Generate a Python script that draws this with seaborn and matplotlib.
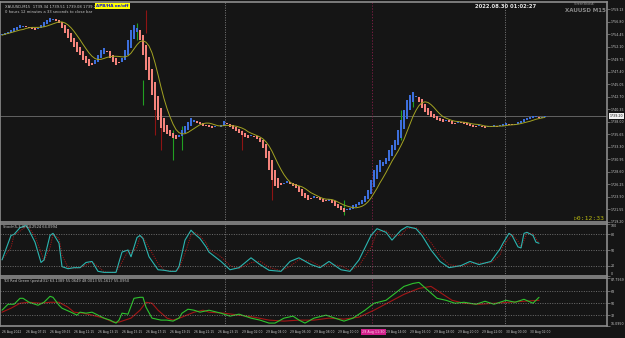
import numpy as np
import pandas as pd
import matplotlib
matplotlib.use("Agg")
import matplotlib.pyplot as plt
import matplotlib.transforms as mtransforms
import seaborn as sns

# ---------------- data ----------------
ha_close = [
    1754.2, 1754.6, 1754.8, 1755.2, 1755.6, 1755.8, 1756.1, 1755.9, 1755.8, 1755.6,
    1755.4, 1755.2, 1755.6, 1756.1, 1756.7, 1757.1, 1757.4, 1757.3, 1756.9, 1756.5,
    1755.6, 1754.6, 1753.7, 1752.9, 1752.0, 1751.1, 1750.5, 1749.5, 1749.0, 1748.4,
    1748.6, 1749.5, 1750.5, 1751.4, 1751.8, 1751.1, 1749.9, 1749.2, 1748.6, 1749.2,
    1749.9, 1751.4, 1753.3, 1755.2, 1756.1, 1755.6, 1753.3, 1750.5, 1747.7, 1745.8,
    1743.0, 1740.2, 1738.3, 1736.8, 1736.0, 1735.6, 1735.3, 1734.9, 1734.7, 1735.5,
    1736.4, 1737.1, 1737.9, 1738.6, 1738.3, 1737.7, 1737.5, 1737.1, 1737.3, 1737.0,
    1736.8, 1737.1, 1737.0, 1737.3, 1738.1, 1737.5, 1737.0, 1736.6, 1736.2, 1735.8,
    1735.5, 1735.1, 1734.9, 1735.3, 1735.1, 1734.7, 1734.1, 1733.0, 1731.1, 1728.9,
    1727.0, 1725.9, 1725.5, 1726.1, 1726.4, 1726.8, 1726.2, 1725.9, 1725.5, 1724.7,
    1724.0, 1723.6, 1723.2, 1723.6, 1724.0, 1723.6, 1723.2, 1722.9, 1723.0, 1723.4,
    1722.7, 1722.1, 1721.7, 1721.4, 1721.0, 1721.4, 1721.7, 1722.3, 1722.5, 1722.9,
    1723.2, 1724.0, 1725.1, 1727.0, 1728.9, 1729.8, 1730.8, 1730.4, 1731.1, 1732.6,
    1733.6, 1734.5, 1736.4, 1738.3, 1740.2, 1742.0, 1743.0, 1743.5, 1742.8, 1741.7,
    1740.5, 1739.8, 1739.2, 1738.8, 1738.6, 1738.3, 1738.1, 1737.9, 1738.3, 1737.9,
    1737.5, 1737.7, 1738.1, 1737.9, 1737.5, 1737.3, 1737.1, 1737.0, 1737.1, 1737.3,
    1737.0, 1736.8, 1737.0, 1737.1, 1737.3, 1737.1, 1737.3, 1737.5, 1737.7, 1737.5,
    1737.3, 1737.5, 1737.9, 1738.1, 1738.5, 1738.6, 1738.8, 1739.0, 1738.8, 1738.6,
    1738.8, 1739.0,
]

# real-candle wicks that stick out of the Heiken Ashi bodies
wick_bars = [45, 47, 48, 51, 53, 57, 60, 80, 90, 114, 133, 137]
wick_high = [1756.5, 1745.8, 1758.9, 1742.0, 1737.0, 1736.4, 1737.1, 1736.4, 1728.9, 1723.2, 1740.2, 1743.5]
wick_low = [1753.3, 1741.1, 1754.6, 1735.4, 1732.6, 1730.8, 1732.6, 1732.6, 1723.2, 1720.4, 1734.5, 1740.8]
wick_bull = [True, True, False, False, False, True, True, False, False, True, True, True]

stoch_bars = [0, 3, 4, 6, 8, 9, 11, 13, 14, 16, 17, 19, 20, 22, 24, 26, 28, 30, 32, 34,
              36, 38, 40, 42, 43, 45, 46, 47, 49, 52, 54, 56, 58, 59, 61, 63, 64, 66, 68, 69,
              73, 76, 79, 83, 86, 89, 93, 96, 99, 103, 106, 109, 113, 116, 119, 123, 125, 128, 130, 133,
              135, 138, 140, 143, 146, 149, 153, 156, 159, 163, 166, 167, 169, 170, 172, 173, 174, 175, 177, 178, 179]
stoch_main = [31, 78, 80, 93, 97, 88, 65, 26, 31, 78, 82, 63, 18, 14, 16, 16, 26, 28, 9, 7,
              7, 7, 46, 50, 37, 74, 78, 72, 37, 12, 11, 9, 9, 18, 69, 88, 82, 72, 56, 46,
              28, 12, 16, 35, 22, 11, 9, 28, 35, 22, 16, 28, 12, 9, 31, 78, 91, 84, 69, 88,
              95, 91, 78, 50, 28, 16, 20, 28, 22, 28, 52, 63, 82, 78, 56, 54, 82, 84, 78, 65, 63]

tdi_fast_bars = [0, 2, 4, 6, 7, 9, 12, 14, 16, 17, 19, 20, 23, 25, 26, 28, 30, 32, 34, 36,
                 38, 39, 40, 42, 44, 46, 47, 48, 50, 53, 55, 57, 59, 60, 62, 64, 66, 69,
                 73, 76, 79, 83, 86, 89, 91, 94, 97, 99, 101, 104, 108, 111, 114, 117, 121, 124,
                 128, 131, 134, 137, 139, 142, 145, 148, 151, 154, 158, 161, 164, 168, 171, 174, 177, 179]
tdi_fast = [39.5, 48.5, 48.5, 57.5, 57.5, 51.5, 47, 51.5, 60.5, 59, 47, 42.5, 36.5, 32, 36.5, 35, 36.5, 32, 27.5, 24.5,
            20, 24.5, 35, 33.5, 57.5, 59, 59, 44, 27.5, 24.5, 24.5, 23, 27.5, 35, 41, 39.5, 36.5, 39.5,
            35, 30.5, 33.5, 27.5, 24.5, 20, 20, 27.5, 30.5, 24.5, 20, 27.5, 32, 27.5, 23, 27.5, 39.5, 50,
            54.5, 65, 75.5, 80, 81.5, 69.5, 57.5, 54.5, 50, 51.5, 48.5, 53, 48.5, 54.5, 51.5, 56, 50, 59]

tdi_slow_bars = [0, 3, 6, 9, 13, 16, 19, 22, 24, 27, 30, 34, 37, 39, 43, 46, 48, 50, 52, 55, 57, 60, 64, 67, 69,
                 74, 79, 84, 89, 94, 99, 104, 109, 114, 119, 124, 129, 134, 139, 143, 146, 150, 154, 159, 164, 169, 174, 179]
tdi_slow = [36.5, 42.5, 50, 51.5, 50, 51.5, 51.5, 44, 36.5, 35, 32, 27.5, 21.5, 21.5, 27.5, 39.5, 51.5, 50, 39.5, 27.5, 24.5, 29, 36.5, 39.5, 36.5,
            35, 32, 29, 24.5, 23, 24.5, 24.5, 27.5, 26, 29, 39.5, 51.5, 63.5, 72.5, 75.5, 66.5, 54.5, 50, 48.5, 50, 51.5, 53, 54.5]

price_ticks = [1759.13, 1756.78, 1754.43, 1752.08, 1749.73, 1747.38, 1745.03, 1742.68, 1740.33,
               1737.98, 1735.63, 1733.28, 1730.93, 1728.58, 1726.23, 1723.88, 1721.53, 1719.18]
price_tick_labels = ["1759.13", "1756.80", "1754.45", "1752.10", "1749.75", "1747.40", "1745.05", "1742.70",
                     "1740.35", "1738.00", "1735.65", "1733.30", "1730.95", "1728.60", "1726.25", "1723.90",
                     "1721.55", "1719.20"]
last_price_label = "1739.20"

time_tick_bars = [0, 8, 16, 24, 32, 40, 48, 56, 64, 72, 80, 88, 96, 104, 112, 128, 136, 144, 152, 160, 168, 176]
time_tick_labels = ["26 Aug 2022", "26 Aug 07:15", "26 Aug 09:15", "26 Aug 11:15", "26 Aug 13:15",
                    "26 Aug 15:15", "26 Aug 17:15", "26 Aug 19:15", "26 Aug 21:15", "26 Aug 23:15",
                    "29 Aug 02:00", "29 Aug 04:00", "29 Aug 06:00", "29 Aug 08:00", "29 Aug 10:00",
                    "29 Aug 14:00", "29 Aug 16:00", "29 Aug 18:00", "29 Aug 20:00", "29 Aug 22:00",
                    "30 Aug 00:00", "30 Aug 02:00"]
cursor_bar = 123.3
cursor_label = "29 Aug 11:30"
separator_bars = [74.3, 167.7]

stoch_levels = [20, 50, 80]
tdi_levels = [32, 50, 68]

# ---------------- style ----------------
BG = "#151515"
FG = "#c8c8c8"
FRAME = "#8c8c8c"
sns.set_style("dark", {"axes.facecolor": BG, "figure.facecolor": BG})
plt.rcParams["font.family"] = ["DejaVu Sans"]

W, H = 625, 338
fig = plt.figure(figsize=(W / 100, H / 100), dpi=100)
fig.patch.set_facecolor(BG)


def rect(x0, y0, x1, y1):
    return [x0 / W, 1 - y1 / H, (x1 - x0) / W, (y1 - y0) / H]


ax = fig.add_axes(rect(0, 2, 607, 222))
ax2 = fig.add_axes(rect(0, 224, 607, 276), sharex=ax)
ax3 = fig.add_axes(rect(0, 278, 607, 326), sharex=ax)

df = pd.DataFrame({"bar": np.arange(len(ha_close)), "close": ha_close})
opens = [ha_close[0]]
for i in range(1, len(ha_close)):
    opens.append((opens[-1] + ha_close[i - 1]) / 2)
df["open"] = opens
df["ma"] = df["close"].rolling(8, min_periods=1).mean()

BULL = "#3d6fdc"
BEAR = "#f5847c"
WBULL = "#22a022"
WBEAR = "#8e1414"

# wicks
for b, hi, lo, bull in zip(wick_bars, wick_high, wick_low, wick_bull):
    ax.vlines(b, lo, hi, color=WBULL if bull else WBEAR, lw=0.8, zorder=2)

body = df["close"] - df["open"]
body = np.where(np.abs(body) < 0.18, np.where(body >= 0, 0.18, -0.18), body)
colors = [BULL if c >= o else BEAR for o, c in zip(df["open"], df["close"])]
ax.bar(df["bar"], body, bottom=df["open"], width=0.85, color=colors, linewidth=0, zorder=3)

sns.lineplot(data=df, x="bar", y="ma", ax=ax, color="#a3a322", lw=0.7, zorder=4)

ax.axhline(ha_close[-1], color="#6e6e6e", lw=0.6, zorder=1)

# stochastic
sd = pd.DataFrame({"bar": stoch_bars, "main": stoch_main})
sd["signal"] = sd["main"].rolling(2, min_periods=1).mean()
sns.lineplot(data=sd, x="bar", y="signal", ax=ax2, color="#a01818", lw=0.7, linestyle=(0, (1.2, 1.2)))
sns.lineplot(data=sd, x="bar", y="main", ax=ax2, color="#2bb5b0", lw=0.8)

# TDI
fd = pd.DataFrame({"bar": tdi_fast_bars, "v": tdi_fast})
sdd = pd.DataFrame({"bar": tdi_slow_bars, "v": tdi_slow})
sns.lineplot(data=sdd, x="bar", y="v", ax=ax3, color="#a31515", lw=0.8)
sns.lineplot(data=fd, x="bar", y="v", ax=ax3, color="#2ec42e", lw=0.8)

for lv in stoch_levels:
    ax2.axhline(lv, color="#8a8a8a", lw=0.5, linestyle=(0, (1.5, 2)))
for lv in tdi_levels:
    ax3.axhline(lv, color="#8a8a8a", lw=0.5, linestyle=(0, (1.5, 2)))

for a in (ax, ax2, ax3):
    for b in separator_bars:
        a.axvline(b, color="#9a9a9a", lw=0.5, linestyle=(0, (1.5, 2)), zorder=1)
    a.axvline(cursor_bar, color="#8a1f4a", lw=0.6, linestyle=(0, (1.5, 2)), zorder=1)

# axes limits and styles
ax.set_xlim(-0.67, 201.67)
ax.set_ylim(1719.09, 1760.45)
ax2.set_ylim(0, 100)
ax3.set_ylim(15.6, 88.2)

for a in (ax, ax2, ax3):
    a.set_facecolor(BG)
    a.set_xlabel("")
    a.set_ylabel("")
    a.grid(False)
    for s in a.spines.values():
        s.set_color(FRAME)
        s.set_linewidth(1.2)
    a.yaxis.tick_right()
    a.tick_params(axis="y", colors=FRAME, labelcolor=FG, labelsize=2.3, length=2, width=0.5, pad=1)
    a.tick_params(axis="x", colors=FRAME, labelcolor=FG, labelsize=2.2, length=2, width=0.5, pad=1)

ax.set_yticks(price_ticks)
ax.set_yticklabels(price_tick_labels)
ax2.set_yticks([0, 20, 50, 80, 100])
ax2.set_yticklabels(["0", "20", "50", "80", "100"])
ax2.get_yticklabels()[0].set_va("bottom")
ax2.get_yticklabels()[-1].set_va("top")
ax3.set_yticks([16.095, 32, 50, 68, 87.797])
ax3.set_yticklabels(["16.0950", "32", "50", "68", "87.7969"])
ax3.get_yticklabels()[-1].set_va("top")
ax3.get_yticklabels()[0].set_va("bottom")

ax.tick_params(axis="x", labelbottom=False, length=0)
ax2.tick_params(axis="x", labelbottom=False, length=0)
ax3.set_xticks(time_tick_bars)
ax3.set_xticklabels(time_tick_labels, ha="left")

# last price box
tr = mtransforms.blended_transform_factory(ax.transAxes, ax.transData)
ax.text(1.004, ha_close[-1], last_price_label, transform=tr, fontsize=2.3, color="#111111",
        va="center", ha="left", clip_on=False,
        bbox=dict(boxstyle="square,pad=0.25", fc="#f0f0f0", ec="none"))

# cursor time box
trx = mtransforms.blended_transform_factory(ax3.transData, ax3.transAxes)
ax3.text(cursor_bar + 0.5, -0.13, cursor_label, transform=trx, fontsize=2.4, color="#ffd0ea",
         ha="center", va="center", clip_on=False, zorder=10,
         bbox=dict(boxstyle="square,pad=0.35", fc="#d0208a", ec="none"))

# texts
fig.text(5 / W, 1 - 7 / H, "XAUUSD,M15  1739.34 1739.51 1739.08 1739.20", fontsize=2.7, color=FG, va="center")
fig.text(5 / W, 1 - 12 / H, "0 hours 12 minutes a 33 seconds to close bar", fontsize=2.7, color=FG, va="center")
fig.text(112.5 / W, 1 - 6 / H, "APB/HA on/off", fontsize=3.0, color="#1010d0", weight="bold",
         ha="center", va="center", bbox=dict(boxstyle="square,pad=0.3", fc="#ffff00", ec="none"))
fig.text(506 / W, 1 - 7 / H, "2022.08.30 01:02:27", fontsize=3.8, color="#e8e8e8", weight="bold",
         ha="center", va="center")
fig.text(584 / W, 1 - 4 / H, "ScreenShot(A)", fontsize=2.2, color="#9a9a9a", ha="center", va="center")
fig.text(585 / W, 1 - 10 / H, "XAUUSD M15", fontsize=4.0, color="#8a8a8a", weight="bold", ha="center", va="center")
fig.text(605 / W, 1 - 218 / H, "\u25b70:12:33", fontsize=4.6, color="#b8b810", ha="right", va="center",
         family="DejaVu Sans Mono")
fig.text(3 / W, 1 - 227 / H, "Stoch(5,3,3) 64.2524 64.0994", fontsize=2.6, color=FG, va="center")
fig.text(3 / W, 1 - 281 / H, "TDI Red Green (post#31) 63.1389 55.0649 48.0013 55.1617 55.0950",
         fontsize=2.6, color=FG, va="center")

fig.savefig("out.png", dpi=100, facecolor=BG)
